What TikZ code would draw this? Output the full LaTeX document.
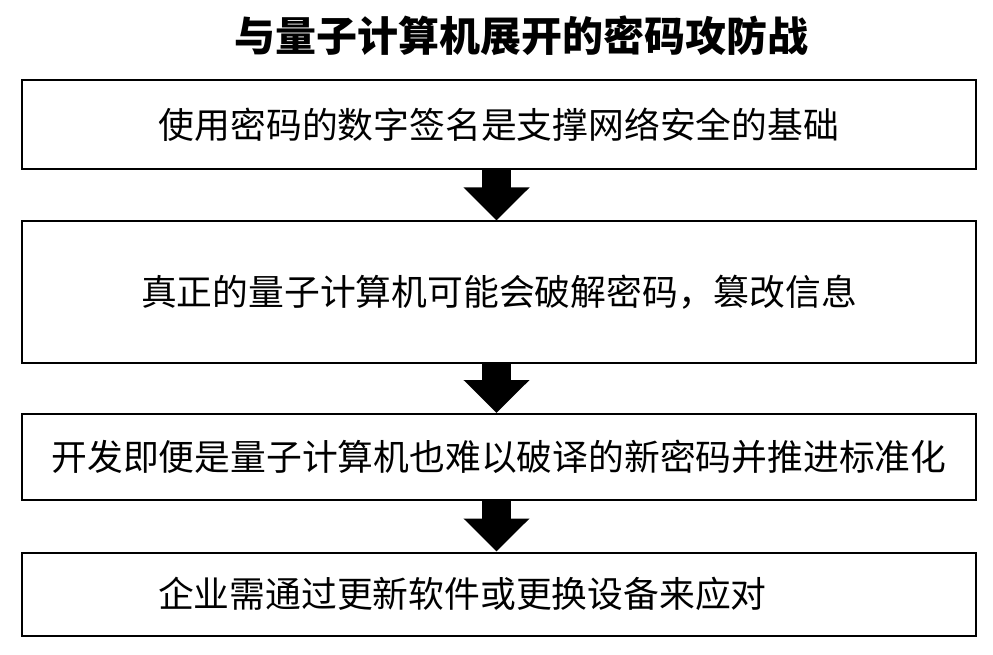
\documentclass[tikz,border=0pt]{standalone}
\usepackage{fontspec}
\usepackage{tikz}
\usetikzlibrary{arrows.meta}
\newfontfamily\cjk{Noto Sans CJK SC}
\tikzstyle{box} = [rectangle, minimum width=954pt, draw=black, line width=2pt, font=\cjk\fontsize{35.8}{40}\selectfont]
\tikzstyle{arrow} = [line width=29pt, -{Triangle[width=64pt, length=33pt]}, black]

\begin{document}
\begin{tikzpicture}[x=1pt, y=-1pt]
			\useasboundingbox (0,0) rectangle (993,655);
			\node (title) at (521,36) {\cjk\bfseries\fontsize{41}{45}\selectfont 与量子计算机展开的密码攻防战};
			\node (b1) [box, minimum height=89pt] at (499,125) {使用密码的数字签名是支撑网络安全的基础};
			\node (b2) [box, minimum height=141pt] at (499,292) {真正的量子计算机可能会破解密码，篡改信息};
			\node (b3) [box, minimum height=86pt] at (499,457) {开发即便是量子计算机也难以破译的新密码并推进标准化};
			\node (b4) [box, minimum height=83pt, inner xsep=136pt, text width=682pt, align=left] at (499,594) {企业需通过更新软件或更换设备来应对};
			\draw [arrow] ([xshift=-2.5pt]b1.south) -- ([xshift=-2.5pt]b2.north);
			\draw [arrow] ([xshift=-2.5pt]b2.south) -- ([xshift=-2.5pt]b3.north);
			\draw [arrow] ([xshift=-2.5pt]b3.south) -- ([xshift=-2.5pt]b4.north);
		\end{tikzpicture}
\end{document}
